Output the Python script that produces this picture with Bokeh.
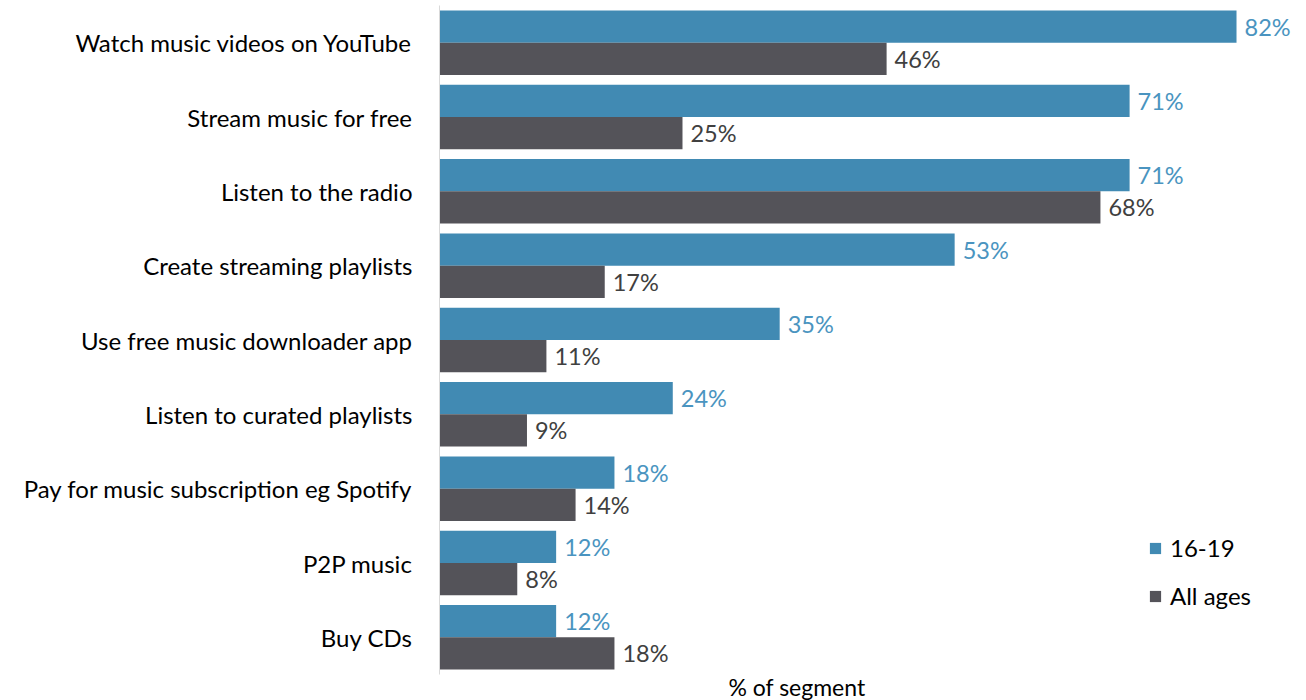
from bokeh.plotting import figure
from bokeh.models import FactorRange, Legend, LegendItem, Title, ColumnDataSource
from bokeh.transform import dodge
from bokeh.core.properties import value
from bokeh.embed import file_html
from bokeh.resources import INLINE

categories = ["Watch music videos on YouTube", "Stream music for free", "Listen to the radio",
              "Create streaming playlists", "Use free music downloader app", "Listen to curated playlists",
              "Pay for music subscription eg Spotify", "P2P music", "Buy CDs"]
teen = [82, 71, 71, 53, 35, 24, 18, 12, 12]
all_ages = [46, 25, 68, 17, 11, 9, 14, 8, 18]
series_names = ["16-19", "All ages"]

FONT = "Lato"
BLUE = "#418ab3"
DARK = "#545359"

src = ColumnDataSource(dict(cat=categories, teen=teen, all=all_ages,
                            teen_lbl=[f"{v}%" for v in teen],
                            all_lbl=[f"{v}%" for v in all_ages]))

p = figure(width=1306, height=700, output_backend="svg", toolbar_location=None,
           y_range=FactorRange(factors=list(reversed(categories))),
           x_range=(0, 89.2), min_border_left=439, min_border_right=0,
           min_border_top=5, min_border_bottom=0)

r1 = p.hbar(y=dodge("cat", 0.217, range=p.y_range), right="teen", left=0, height=0.434,
            source=src, color=BLUE, line_color=None)
r2 = p.hbar(y=dodge("cat", -0.217, range=p.y_range), right="all", left=0, height=0.434,
            source=src, color=DARK, line_color=None)

p.text(x="teen", y=dodge("cat", 0.217, range=p.y_range), text="teen_lbl", source=src,
       x_offset=8, text_baseline="middle", text_font=value(FONT), text_font_size="23.5px",
       text_color="#4a94c0")
p.text(x="all", y=dodge("cat", -0.217, range=p.y_range), text="all_lbl", source=src,
       x_offset=8, text_baseline="middle", text_font=value(FONT), text_font_size="23.5px",
       text_color="#404040")

p.xaxis.visible = False
p.xgrid.visible = False
p.ygrid.visible = False
p.outline_line_color = None
p.yaxis.axis_line_color = "#d9d9d9"
p.yaxis.major_tick_line_color = None
p.yaxis.minor_tick_line_color = None
p.yaxis.major_label_text_font = FONT
p.yaxis.major_label_text_font_size = "24px"
p.yaxis.major_label_text_color = "#000000"
p.yaxis.major_label_standoff = 21

p.add_layout(Title(text="% of segment", align="left", offset=289, standoff=-4,
                   vertical_align="top",
                   text_font=FONT, text_font_size="23px", text_font_style="normal",
                   text_color="#000000", text_line_height=1.0), "below")

legend = Legend(items=[LegendItem(label=series_names[0], renderers=[r1]),
                       LegendItem(label=series_names[1], renderers=[r2])],
                location=(709, 64), border_line_color=None, background_fill_alpha=0,
                glyph_width=14, glyph_height=14, label_height=27, spacing=19,
                label_standoff=8, padding=0, margin=0,
                label_text_font=FONT, label_text_font_size="24px", label_text_color="#000000")
p.add_layout(legend)

open("out.html", "w").write(file_html(p, INLINE))
